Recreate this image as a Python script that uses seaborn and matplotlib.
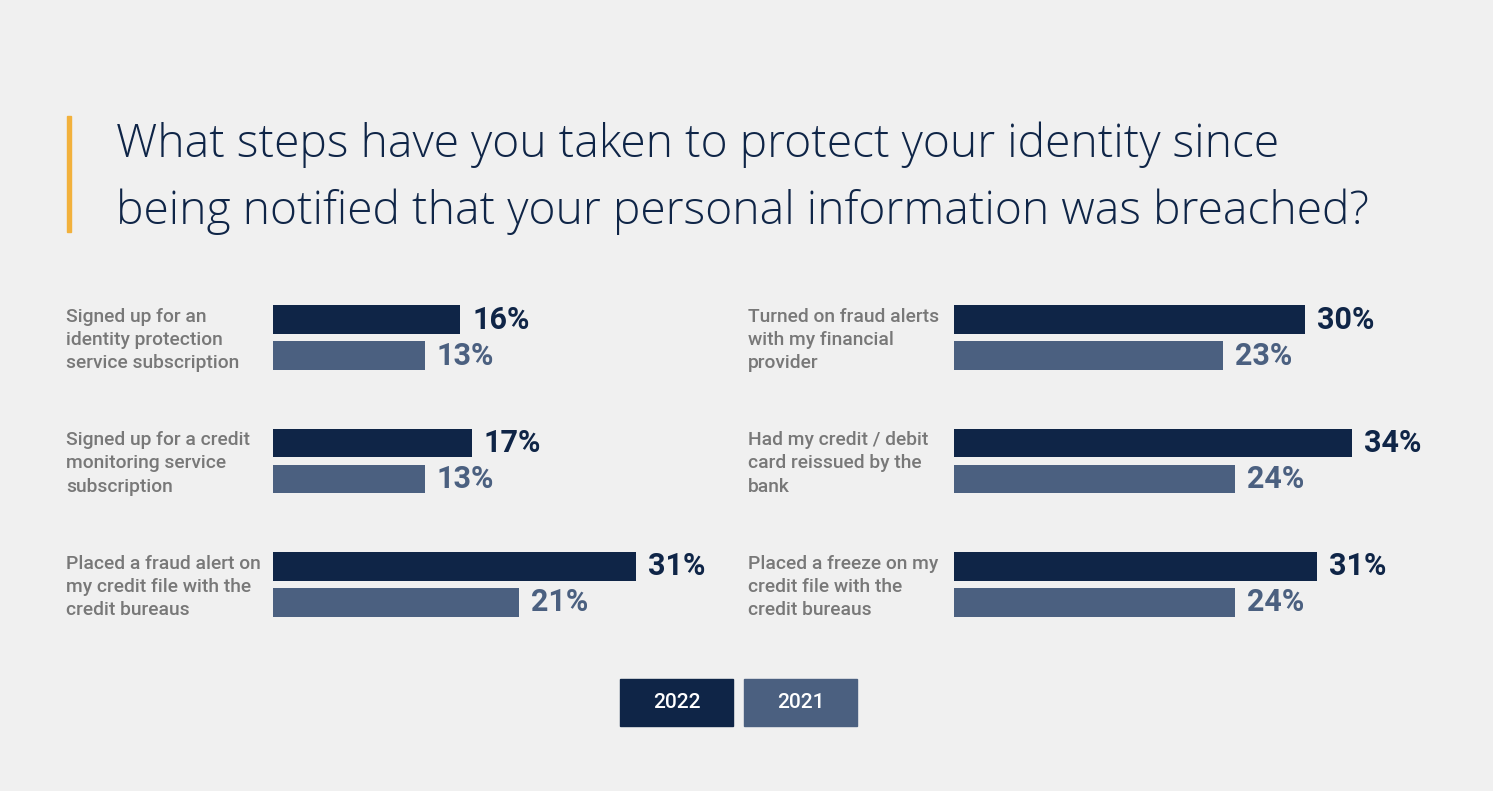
import matplotlib
matplotlib.use("Agg")
import matplotlib.pyplot as plt
import matplotlib.transforms as mtransforms
from matplotlib.patches import Rectangle
import seaborn as sns
import pandas as pd

# ---------------- data ----------------
years = ["2022", "2021"]
left_categories = [
    "Signed up for an\nidentity protection\nservice subscription",
    "Signed up for a credit\nmonitoring service\nsubscription",
    "Placed a fraud alert on\nmy credit file with the\ncredit bureaus",
]
left_2022 = [16, 17, 31]
left_2021 = [13, 13, 21]
right_categories = [
    "Turned on fraud alerts\nwith my financial\nprovider",
    "Had my credit / debit\ncard reissued by the\nbank",
    "Placed a freeze on my\ncredit file with the\ncredit bureaus",
]
right_2022 = [30, 34, 31]
right_2021 = [23, 24, 24]
title_text = ("What steps have you taken to protect your identity since\n"
              "being notified that your personal information was breached?")

# ---------------- style ----------------
BG = "#f0f0f0"
DARK = "#0f2547"
LIGHT = "#4b6080"
GRAY = "#787878"
ACCENT = "#f2b13c"

sns.set_theme(style="white")
plt.rcParams["font.family"] = ["Roboto", "DejaVu Sans"]

W, H = 1493, 791
fig = plt.figure(figsize=(W / 100, H / 100), dpi=100, facecolor=BG)


def fx(px):
    return px / W


def fy(py):
    return 1 - py / H


def make_df(cats, v22, v21):
    rows = []
    for c, a, b in zip(cats, v22, v21):
        rows.append({"category": c, "year": years[0], "value": a})
        rows.append({"category": c, "year": years[1], "value": b})
    return pd.DataFrame(rows)


panels = [
    (273, 66, left_categories, left_2022, left_2021),
    (954, 748, right_categories, right_2022, right_2021),
]

ax_top, ax_bot = 276, 646
for x0, label_x, cats, v22, v21 in panels:
    ax = fig.add_axes([fx(x0), fy(ax_bot), 468 / W, (ax_bot - ax_top) / H])
    ax.set_facecolor("none")
    df = make_df(cats, v22, v21)
    sns.barplot(data=df, x="value", y="category", hue="year", orient="h",
                hue_order=years, palette=[DARK, LIGHT], saturation=1,
                width=0.583, gap=0.195, legend=False, ax=ax, errorbar=None,
                linewidth=0, edgecolor="none")
    ax.set_xlim(0, 40)
    ax.set_ylim(2.5, -0.5)
    for cont, col in zip(ax.containers, [DARK, LIGHT]):
        ax.bar_label(cont, fmt="%d%%", padding=8.5, fontsize=22,
                     fontweight="bold", color=col)
    ax.axis("off")
    trans = mtransforms.blended_transform_factory(fig.transFigure, ax.transData)
    for i, c in enumerate(cats):
        ax.text(fx(label_x), i + 0.02, c, transform=trans, ha="left",
                va="center", fontsize=13.9, fontweight="medium", color=GRAY,
                linespacing=1.36)

# title + accent bar
fig.patches.append(Rectangle((fx(67), fy(232)), 4 / W, 116 / H,
                             transform=fig.transFigure, color=ACCENT))
fig.text(fx(116), fy(121), title_text, ha="left", va="top",
         fontsize=33.3, color=DARK, family=["Open Sans", "DejaVu Sans"],
         fontweight="light", linespacing=1.6)

# legend
for (bx, lab, col) in [(620, years[0], DARK), (744, years[1], LIGHT)]:
    fig.patches.append(Rectangle((fx(bx), fy(726)), 113 / W, 47 / H,
                                 transform=fig.transFigure, color=col))
    fig.text(fx(bx + 56.5), fy(703), lab, ha="center", va="center",
             fontsize=15, fontweight="medium", color="white")

fig.savefig("out.png", dpi=100, facecolor=BG)
